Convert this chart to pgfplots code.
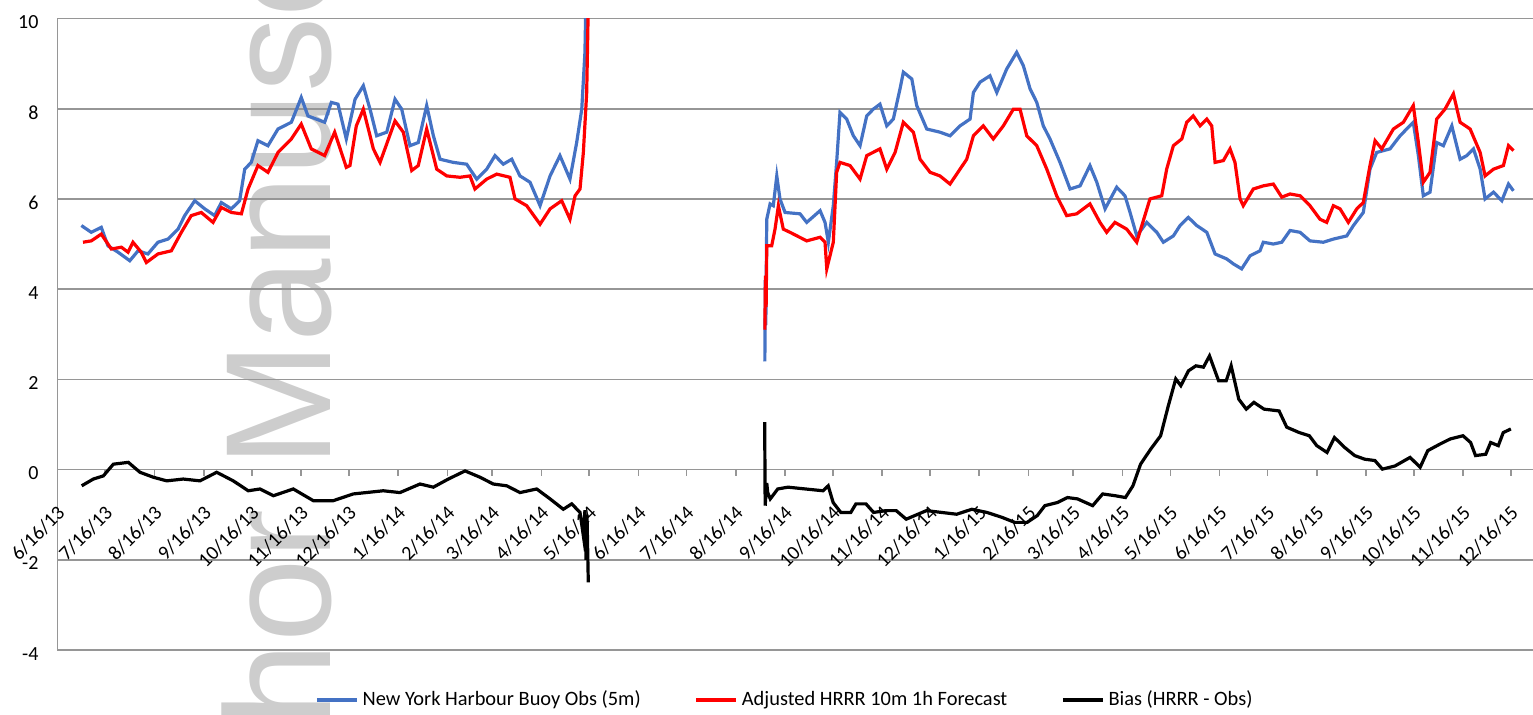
\documentclass[border=0pt]{standalone}
\usepackage{pgfplots}
\pgfplotsset{compat=1.18}
\usepackage{fontspec}
\setmainfont{Carlito}
\newfontfamily\wmfont{Liberation Sans}
\definecolor{obsblue}{RGB}{68,114,196}
\definecolor{hrrred}{RGB}{255,0,0}
\definecolor{gridgray}{RGB}{150,150,150}
\definecolor{wmgray}{RGB}{205,205,205}
\begin{document}
\begin{tikzpicture}
\useasboundingbox (-28.75pt,-32pt) rectangle (737.75pt,325pt);
\node[rotate=90, anchor=base west, text=wmgray, font=\wmfont\fontsize{75}{90}\selectfont, inner sep=0pt] at (136.25pt,-150.8pt) {Author Manuscript};
\begin{axis}[
  at={(0pt,0pt)}, anchor=south west,
  scale only axis, width=737.75pt, height=315.75pt,
  xmin=0, xmax=926.8, ymin=-4, ymax=10,
  axis x line*=middle, axis y line*=left,
  hide obscured x ticks=false,
  axis line style={draw=gridgray, line width=0.8pt},
  ymajorgrids, major grid style={draw=gridgray, line width=0.8pt},
  ytick={-4,-2,0,2,4,6,8,10},
  yticklabels={-4,-2,0,2,4,6,8,10},
  ytick style={draw=none},
  yticklabel style={font=\fontsize{10}{12}\selectfont, xshift=-6pt, yshift=-1.8pt},
  xtick={0,30,61,92,122,153,183,214,245,273,304,334,365,395,426,457,487,518,548,579,610,638,669,699,730,760,791,822,852,883,913},
  xticklabels={6/16/13,7/16/13,8/16/13,9/16/13,10/16/13,11/16/13,12/16/13,1/16/14,2/16/14,3/16/14,4/16/14,5/16/14,6/16/14,7/16/14,8/16/14,9/16/14,10/16/14,11/16/14,12/16/14,1/16/15,2/16/15,3/16/15,4/16/15,5/16/15,6/16/15,7/16/15,8/16/15,9/16/15,10/16/15,11/16/15,12/16/15},
  xtick align=outside,
  major tick length=3pt,
  xtick style={draw=gridgray, line width=0.8pt},
  xticklabel shift=5pt,
  xticklabel style={font=\fontsize{10}{12}\selectfont, xshift=2pt, yshift=-12pt, rotate=45, anchor=east, inner sep=0pt},
  unbounded coords=jump,
  legend style={at={(0.1745,-0.0792)}, anchor=west, draw=none, fill=none, inner sep=0pt,
    font=\fontsize{10.2}{12}\selectfont, legend columns=3,
    /tikz/every even column/.append style={column sep=25pt}},
  legend image code/.code={\draw[#1] (0pt,0pt) -- (20pt,0pt);},
]
\addplot[obsblue, line width=1.6pt] table[x=d, y=v] {
d v
15.0 5.41
21.2 5.26
27.5 5.37
31.7 4.96
38.0 4.82
45.4 4.63
50.6 4.85
56.8 4.78
63.1 5.04
69.4 5.11
75.7 5.33
79.9 5.63
86.2 5.96
92.5 5.78
98.7 5.63
102.9 5.92
109.2 5.78
114.4 5.96
117.6 6.66
121.7 6.81
125.9 7.29
132.2 7.18
138.5 7.55
146.9 7.70
153.1 8.25
157.3 7.84
167.8 7.70
172.0 8.14
176.2 8.10
181.4 7.33
186.9 8.21
192.1 8.51
196.3 7.99
200.5 7.40
206.8 7.48
212.0 8.21
216.2 7.99
221.4 7.18
226.6 7.25
231.9 8.07
236.1 7.40
240.3 6.88
248.6 6.81
257.0 6.77
263.3 6.44
269.6 6.66
274.8 6.96
280.0 6.77
285.3 6.88
290.5 6.51
296.8 6.37
303.1 5.85
309.4 6.51
315.6 6.96
321.9 6.44
326.1 7.25
329.3 7.99
331.3 9.25
333.0 12.5
nan nan
444.3 2.40
444.6 4.20
444.9 3.20
445.5 5.55
447.6 5.89
449.6 5.85
451.8 6.51
453.8 6.00
457.0 5.70
466.4 5.67
470.6 5.48
479.0 5.74
482.1 5.48
484.2 5.04
487.3 5.85
489.4 6.81
491.5 7.92
495.7 7.77
499.9 7.40
504.1 7.18
508.3 7.84
512.4 7.99
516.6 8.10
520.9 7.62
525.0 7.77
529.2 8.44
531.3 8.81
536.6 8.66
539.7 8.07
546.0 7.55
554.3 7.48
560.6 7.40
566.9 7.62
573.2 7.77
575.3 8.36
579.5 8.59
585.7 8.73
590.0 8.36
596.2 8.88
602.5 9.25
606.7 8.95
610.9 8.44
615.1 8.14
619.2 7.62
623.4 7.33
629.7 6.81
636.0 6.22
642.3 6.29
648.5 6.74
652.8 6.37
658.0 5.78
665.3 6.26
670.5 6.07
673.7 5.70
677.9 5.18
684.2 5.48
690.5 5.26
694.6 5.04
700.9 5.18
705.1 5.41
710.3 5.59
715.6 5.41
721.9 5.26
727.1 4.78
734.4 4.67
738.6 4.56
743.8 4.45
749.1 4.74
755.3 4.85
757.4 5.04
763.7 5.00
769.0 5.04
774.2 5.30
780.5 5.26
786.7 5.07
795.1 5.04
801.4 5.11
809.8 5.18
814.0 5.41
820.2 5.70
824.4 6.66
828.6 7.03
837.0 7.11
843.3 7.40
851.6 7.70
854.8 6.96
857.9 6.07
862.1 6.15
866.3 7.25
870.5 7.18
875.8 7.62
881.0 6.88
885.2 6.96
889.4 7.11
893.6 6.66
896.7 6.00
902.0 6.15
907.2 5.96
911.4 6.33
914.5 6.18
};
\addlegendentry{New York Harbour Buoy Obs (5m)}
\addplot[hrrred, line width=1.6pt] table[x=d, y=v] {
d v
16.0 5.04
21.2 5.07
27.5 5.22
33.8 4.89
40.1 4.93
44.3 4.82
47.4 5.04
52.6 4.82
55.8 4.59
63.1 4.78
71.5 4.85
77.8 5.26
84.0 5.63
90.3 5.70
97.7 5.48
102.9 5.81
109.2 5.70
115.5 5.67
119.7 6.22
125.9 6.74
132.2 6.59
138.5 7.03
146.9 7.33
153.1 7.66
159.4 7.11
167.8 6.96
174.1 7.48
181.4 6.70
183.7 6.74
187.7 7.62
192.1 7.99
198.4 7.11
202.6 6.81
212.0 7.73
217.2 7.48
222.5 6.63
226.6 6.74
231.9 7.55
238.2 6.66
244.5 6.51
252.8 6.48
259.1 6.51
262.2 6.22
269.6 6.44
275.9 6.55
284.2 6.48
287.4 6.00
294.7 5.85
303.1 5.44
309.4 5.78
316.7 5.96
321.9 5.55
325.1 6.07
328.2 6.22
330.3 7.03
332.4 8.36
333.4 10.3
nan nan
444.3 3.10
444.7 4.30
445.1 3.60
445.5 4.96
448.6 4.96
450.7 5.33
452.8 5.85
455.9 5.33
460.1 5.26
470.6 5.07
479.0 5.15
482.1 5.04
483.2 4.45
487.3 5.04
489.4 6.59
491.5 6.81
497.8 6.74
504.1 6.44
508.3 6.96
516.6 7.11
520.9 6.66
526.1 7.03
531.3 7.70
537.6 7.48
541.8 6.88
548.1 6.59
554.3 6.51
560.6 6.33
566.9 6.66
571.1 6.88
575.3 7.40
581.5 7.62
587.8 7.33
594.1 7.62
600.4 7.99
604.6 7.99
608.8 7.40
615.1 7.18
621.4 6.66
627.6 6.07
633.9 5.63
640.2 5.67
648.5 5.89
654.8 5.48
659.0 5.26
664.2 5.48
671.6 5.33
677.9 5.04
686.2 6.00
693.6 6.07
696.7 6.66
700.9 7.18
706.2 7.33
709.3 7.70
713.4 7.84
717.7 7.62
721.9 7.77
725.0 7.62
727.1 6.81
732.3 6.85
736.5 7.11
739.6 6.81
742.8 6.00
744.8 5.85
751.1 6.22
757.4 6.29
763.7 6.33
769.0 6.04
774.2 6.11
780.5 6.07
786.7 5.85
793.0 5.55
797.2 5.48
801.4 5.85
805.6 5.78
810.8 5.48
816.1 5.78
820.2 5.92
824.4 6.74
827.6 7.29
831.8 7.11
839.1 7.55
845.4 7.70
851.6 8.07
854.8 7.25
857.9 6.37
862.1 6.59
866.3 7.77
871.5 7.99
876.8 8.33
881.0 7.70
887.3 7.55
893.6 7.03
896.7 6.51
902.0 6.66
908.2 6.74
911.4 7.18
914.5 7.07
};
\addlegendentry{Adjusted HRRR 10m 1h Forecast\hspace{12pt}}
\addplot[black, line width=1.6pt] table[x=d, y=v] {
d v
15.2 -0.36
22.5 -0.21
28.8 -0.14
35.1 0.12
44.5 0.16
51.8 -0.06
60.2 -0.17
68.6 -0.25
79.0 -0.21
89.5 -0.25
100.0 -0.06
110.4 -0.25
119.8 -0.47
127.2 -0.43
135.6 -0.58
148.1 -0.43
160.7 -0.69
173.2 -0.69
185.8 -0.54
204.6 -0.47
215.1 -0.51
227.7 -0.32
236.1 -0.39
245.5 -0.21
256.0 -0.03
265.4 -0.17
273.7 -0.32
282.2 -0.36
290.5 -0.51
301.0 -0.43
309.4 -0.65
317.7 -0.88
323.0 -0.76
328.2 -0.95
330.3 -1.47
331.3 -0.90
332.0 -2.00
332.6 -1.00
333.4 -2.50
nan nan
444.2 1.05
444.5 -0.80
445.5 -0.30
446.1 -0.51
447.7 -0.65
452.4 -0.43
458.8 -0.39
469.8 -0.43
480.9 -0.47
484.1 -0.36
487.2 -0.73
492.0 -0.95
498.3 -0.95
501.5 -0.76
507.8 -0.76
512.6 -0.95
520.5 -0.91
526.8 -0.91
533.1 -1.10
545.8 -0.91
555.3 -0.95
564.8 -0.99
574.3 -0.88
583.8 -0.95
593.3 -1.06
601.2 -1.17
609.1 -1.17
615.4 -1.02
620.2 -0.80
628.1 -0.73
634.4 -0.62
640.7 -0.65
650.2 -0.80
656.5 -0.54
664.4 -0.58
670.8 -0.62
675.5 -0.36
680.3 0.12
686.6 0.45
692.9 0.75
697.7 1.41
702.4 2.01
705.6 1.86
710.4 2.19
715.1 2.30
719.8 2.27
723.6 2.52
729.3 1.97
734.1 1.97
737.2 2.30
742.0 1.56
746.7 1.34
751.5 1.49
757.8 1.34
767.3 1.30
772.1 0.94
780.0 0.82
786.3 0.75
791.0 0.53
797.4 0.38
802.1 0.71
808.5 0.49
814.8 0.31
821.1 0.23
827.5 0.20
832.2 0.01
840.1 0.08
849.6 0.27
855.9 0.05
860.7 0.42
868.6 0.57
874.9 0.68
882.8 0.75
887.6 0.60
890.7 0.31
897.1 0.34
900.2 0.60
905.0 0.53
908.1 0.82
912.9 0.90
};
\addlegendentry{Bias (HRRR - Obs)}
\end{axis}
\end{tikzpicture}
\end{document}
